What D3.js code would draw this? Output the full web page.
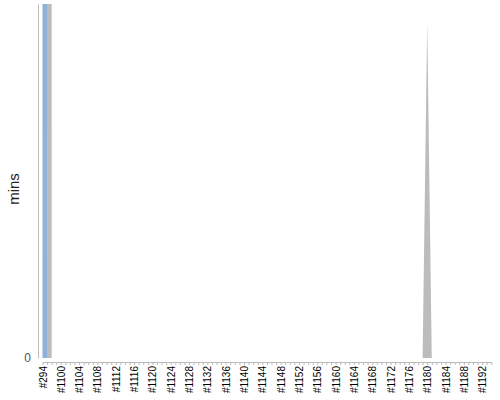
<!DOCTYPE html>
<html>
<head>
<meta charset="utf-8">
<script src="https://cdn.jsdelivr.net/npm/d3@7"></script>
<style>
  body { margin: 0; background: #fff; }
  text { font-family: "Liberation Sans", Arial, sans-serif; }
</style>
</head>
<body>
<div id="chart"></div>
<script>
// builds along the x axis: #294, then #1097 .. #1194
var builds = ['#294'].concat(d3.range(1097, 1195).map(function(n) { return '#' + n; }));

// labels the axis keeps (the rest are dropped for overlap)
var shownLabels = ['#294', '#1100', '#1104', '#1108', '#1112', '#1116', '#1120', '#1124',
  '#1128', '#1132', '#1136', '#1140', '#1144', '#1148', '#1152', '#1156', '#1160',
  '#1164', '#1168', '#1172', '#1176', '#1180', '#1184', '#1188', '#1192'];

// build durations in minutes, only builds that are not zero
var successBuilds = ['#294'];
var successMins = [5000];
var greyBuilds = ['#1097', '#1180'];
var greyMins = [5000, 19];

var yMax = 20;

var W = 500, H = 400;
var margin = { top: 4, right: 8, bottom: 42, left: 38 };
var plotW = W - margin.left - margin.right,
    plotH = H - margin.top - margin.bottom;

// one row per build, zero where nothing was read
var rows = builds.map(function(b) {
  var i = successBuilds.indexOf(b), j = greyBuilds.indexOf(b);
  return {
    build: b,
    success: i < 0 ? 0 : successMins[i],
    grey: j < 0 ? 0 : greyMins[j]
  };
});

var stacked = d3.stack().keys(['success', 'grey'])(rows);

var x = d3.scalePoint()
    .domain(builds)
    .range([4.5, plotW - 0.7]);

var y = d3.scaleLinear()
    .domain([0, yMax])
    .range([plotH, 0]);

var svg = d3.select('#chart').append('svg')
    .attr('width', W)
    .attr('height', H);

svg.append('defs').append('clipPath')
    .attr('id', 'plotClip')
  .append('rect')
    .attr('width', plotW)
    .attr('height', plotH);

var g = svg.append('g')
    .attr('transform', 'translate(' + margin.left + ',' + margin.top + ')');

var colors = { success: '#8eb2d9', grey: '#bcbcbc' };

var area = d3.area()
    .x(function(d) { return x(d.data.build); })
    .y0(function(d) { return y(d[0]); })
    .y1(function(d) { return y(d[1]); });

g.append('g')
    .attr('clip-path', 'url(#plotClip)')
  .selectAll('path')
    .data(stacked.slice().reverse())
  .enter().append('path')
    .attr('fill', function(d) { return colors[d.key]; })
    .attr('d', area);

// y axis: only the zero tick carries a label
var yAxis = g.append('g')
    .call(d3.axisLeft(y).tickValues([0]).tickSize(0).tickPadding(7));
yAxis.select('.domain').attr('stroke', '#bbb');
yAxis.selectAll('text')
    .attr('fill', '#555')
    .style('font-size', '12px');

// x axis: a small tick per build, a label on every fourth one
var xAxis = g.append('g')
    .attr('transform', 'translate(0,' + (plotH + 4) + ')')
    .call(d3.axisBottom(x).tickSize(3).tickSizeOuter(0)
      .tickFormat(function(d) { return shownLabels.indexOf(d) >= 0 ? d : ''; }));
xAxis.select('.domain').attr('stroke', '#bbb');
xAxis.selectAll('.tick line').attr('stroke', '#bbb');
xAxis.selectAll('text')
    .attr('fill', '#000')
    .style('font-size', '10px')
    .attr('text-anchor', 'end')
    .attr('transform', 'rotate(-90)')
    .attr('x', -4)
    .attr('y', 0)
    .attr('dy', '0.35em');

svg.append('text')
    .attr('transform', 'translate(19,' + (margin.top + plotH / 2 + 8) + ') rotate(-90)')
    .attr('text-anchor', 'middle')
    .attr('fill', '#222')
    .style('font-size', '15px')
    .text('mins');
</script>
</body>
</html>
